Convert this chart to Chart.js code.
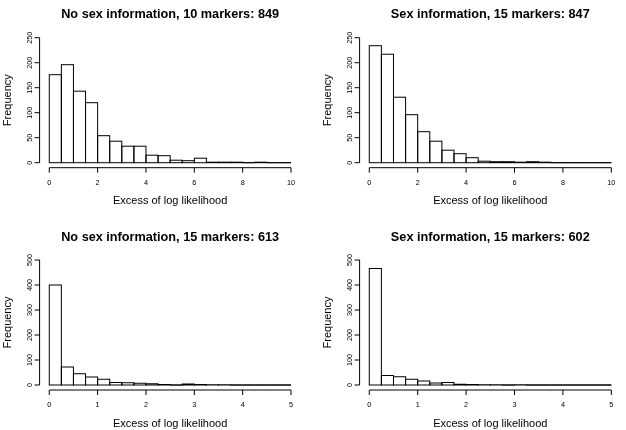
<!DOCTYPE html>
<html>
<head>
<meta charset="utf-8">
<title>Excess of log likelihood</title>
<script src="https://cdn.jsdelivr.net/npm/chart.js"></script>
<style>
body { margin: 0; background: #fff; }
#grid { position: relative; width: 626px; height: 430px; }
#grid canvas { position: absolute; }
</style>
</head>
<body>
<div id="grid">
    <canvas id="hist-1" width="313" height="215" style="left:0;top:0"></canvas>
    <canvas id="hist-2" width="313" height="215" style="left:313px;top:0"></canvas>
    <canvas id="hist-3" width="313" height="215" style="left:0;top:215px"></canvas>
    <canvas id="hist-4" width="313" height="215" style="left:313px;top:215px"></canvas>
</div>
<script>
// Dati
var breaks10 = [0, 0.5, 1, 1.5, 2, 2.5, 3, 3.5, 4, 4.5, 5, 5.5, 6, 6.5, 7, 7.5, 8, 8.5, 9, 9.5, 10];
var breaks5 = [0, 0.25, 0.5, 0.75, 1, 1.25, 1.5, 1.75, 2, 2.25, 2.5, 2.75, 3, 3.25, 3.5, 3.75, 4, 4.25, 4.5, 4.75, 5];

var noSex10 = [176, 196, 143, 120, 54, 43, 33, 33, 15, 14, 5, 4, 9, 1, 1, 1, 0, 1, 0, 0];
var sex15a = [234, 217, 131, 96, 62, 43, 25, 18, 10, 3, 2, 2, 1, 2, 1, 0, 0, 0, 0, 0];
var noSex15 = [400, 72, 45, 32, 23, 10, 9, 7, 5, 2, 0, 4, 2, 1, 1, 0, 0, 0, 0, 0];
var sex15b = [466, 38, 33, 23, 16, 8, 10, 3, 2, 1, 1, 0, 1, 0, 0, 0, 0, 0, 0, 0];

var xTicks10 = [0, 2, 4, 6, 8, 10];
var xTicks5 = [0, 1, 2, 3, 4, 5];
var yTicks250 = [0, 50, 100, 150, 200, 250];
var yTicks500 = [0, 100, 200, 300, 400, 500];

var xLabel = 'Excess of log likelihood';
var yLabel = 'Frequency';

var FONT = '"Liberation Sans", Arial, Helvetica, sans-serif';

getHistChart('hist-1', 'No sex information, 10 markers: 849', breaks10, noSex10, xTicks10, yTicks250,
    {left: 39.6, right: 12.3, top: 32.7, bottom: 47.3});
getHistChart('hist-2', 'Sex information, 15 markers: 847', breaks10, sex15a, xTicks10, yTicks250,
    {left: 46.6, right: 5, top: 32.7, bottom: 47.3});
getHistChart('hist-3', 'No sex information, 15 markers: 613', breaks5, noSex15, xTicks5, yTicks500,
    {left: 39.6, right: 12.3, top: 40, bottom: 40});
getHistChart('hist-4', 'Sex information, 15 markers: 602', breaks5, sex15b, xTicks5, yTicks500,
    {left: 46.6, right: 5, top: 40, bottom: 40});

// Istogramma in stile R (assi staccati, etichette y ruotate)
function getHistChart(id, title, breaks, counts, xTicks, yTicks, pad) {
    var points = [];
    for (var i = 0; i < counts.length; i++) {
        points.push({x: (breaks[i] + breaks[i + 1]) / 2, y: counts[i]});
    }
    var xLo = breaks[0], xHi = breaks[breaks.length - 1];
    var yHi = yTicks[yTicks.length - 1];
    var xExt = (xHi - xLo) * 0.04, yExt = yHi * 0.04;

    var rAxes = {
        id: 'rAxes',
        afterDatasetsDraw: function (chart) {
            // contorno delle barre, come rect() di R
            var ctx = chart.ctx;
            ctx.save();
            ctx.strokeStyle = '#000';
            ctx.lineWidth = 1;
            chart.getDatasetMeta(0).data.forEach(function (bar) {
                var p = bar.getProps(['x', 'y', 'base', 'width'], true);
                ctx.strokeRect(p.x - p.width / 2, p.y, p.width, p.base - p.y);
            });
            ctx.restore();
        },
        afterDraw: function (chart) {
            var ctx = chart.ctx;
            var sx = chart.scales.x, sy = chart.scales.y;
            var area = chart.chartArea;
            var midX = (area.left + area.right) / 2;
            var midY = (area.top + area.bottom) / 2;

            ctx.save();
            ctx.strokeStyle = '#000';
            ctx.fillStyle = '#000';
            ctx.lineWidth = 1;

            function line(x1, y1, x2, y2) {
                ctx.beginPath();
                ctx.moveTo(x1, y1);
                ctx.lineTo(x2, y2);
                ctx.stroke();
            }

            // asse x
            var xa = area.bottom;
            line(sx.getPixelForValue(xTicks[0]), xa, sx.getPixelForValue(xTicks[xTicks.length - 1]), xa);
            ctx.font = '7.3px ' + FONT;
            ctx.textAlign = 'center';
            ctx.textBaseline = 'alphabetic';
            xTicks.forEach(function (t) {
                var p = sx.getPixelForValue(t);
                line(p, xa, p, xa + 5);
                ctx.fillText(String(t), p, xa + 17.3);
            });

            // asse y
            var ya = area.left;
            line(ya, sy.getPixelForValue(yTicks[0]), ya, sy.getPixelForValue(yHi));
            yTicks.forEach(function (t) {
                var p = sy.getPixelForValue(t);
                line(ya - 5, p, ya, p);
                ctx.save();
                ctx.translate(ya - 7.4, p);
                ctx.rotate(-Math.PI / 2);
                ctx.fillText(String(t), 0, 0);
                ctx.restore();
            });

            // testi
            ctx.font = 'bold 12.7px ' + FONT;
            ctx.fillText(title, midX, area.top - 14.5);

            ctx.font = '11px ' + FONT;
            ctx.fillText(xLabel, midX, xa + 36.6);

            ctx.save();
            ctx.translate(ya - 29, midY);
            ctx.rotate(-Math.PI / 2);
            ctx.fillText(yLabel, 0, 0);
            ctx.restore();

            ctx.restore();
        }
    };

    return new Chart(document.getElementById(id), {
        type: 'bar',
        data: {
            datasets: [{
                label: yLabel,
                data: points,
                backgroundColor: '#ffffff',
                borderWidth: 0,
                inflateAmount: 0,
                barPercentage: 1,
                categoryPercentage: 1
            }]
        },
        options: {
            responsive: false,
            devicePixelRatio: 1,
            animation: false,
            layout: {padding: pad},
            scales: {
                x: {type: 'linear', min: xLo - xExt, max: xHi + xExt, offset: false, display: false},
                y: {type: 'linear', min: -yExt, max: yHi + yExt, display: false}
            },
            plugins: {
                legend: {display: false},
                tooltip: {enabled: false},
                title: {display: false}
            }
        },
        plugins: [rAxes]
    });
}
</script>
</body>
</html>
